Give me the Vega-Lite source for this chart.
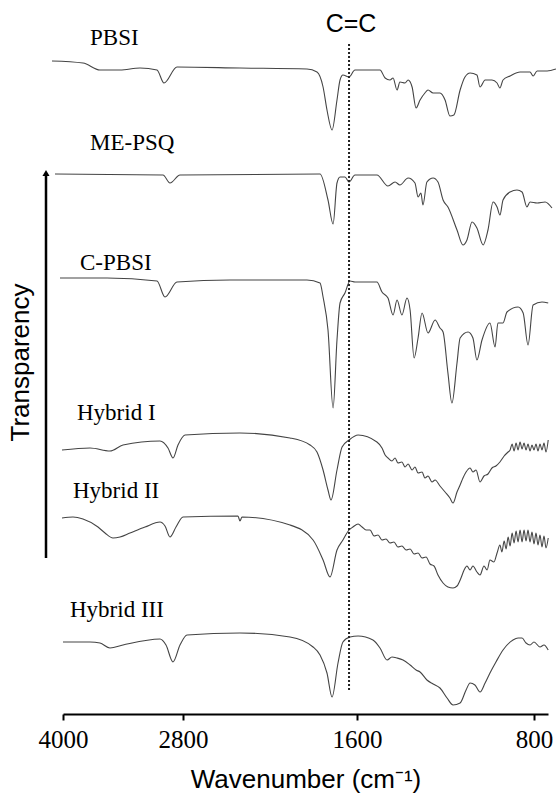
{
  "$schema": "https://vega.github.io/schema/vega-lite/v6.json",
  "width": 485,
  "height": 704,
  "autosize": "none",
  "padding": {"left": 63, "top": 10, "right": 8, "bottom": 83},
  "config": {"view": {"stroke": null}, "background": "white"},
  "datasets": {
    "spectra": [
      {"sample":"PBSI","wavenumber":4110,"transmittance":653},{"sample":"PBSI","wavenumber":3800,"transmittance":651},{"sample":"PBSI","wavenumber":3630,"transmittance":644},{"sample":"PBSI","wavenumber":3430,"transmittance":644},{"sample":"PBSI","wavenumber":3230,"transmittance":646},{"sample":"PBSI","wavenumber":3060,"transmittance":644},{"sample":"PBSI","wavenumber":2990,"transmittance":631},{"sample":"PBSI","wavenumber":2860,"transmittance":647},{"sample":"PBSI","wavenumber":2407,"transmittance":646},{"sample":"PBSI","wavenumber":1945,"transmittance":645},{"sample":"PBSI","wavenumber":1876,"transmittance":642},{"sample":"PBSI","wavenumber":1834,"transmittance":627},{"sample":"PBSI","wavenumber":1807,"transmittance":604},{"sample":"PBSI","wavenumber":1772,"transmittance":584},{"sample":"PBSI","wavenumber":1738,"transmittance":614},{"sample":"PBSI","wavenumber":1717,"transmittance":634},{"sample":"PBSI","wavenumber":1697,"transmittance":639},{"sample":"PBSI","wavenumber":1655,"transmittance":637},{"sample":"PBSI","wavenumber":1614,"transmittance":644},{"sample":"PBSI","wavenumber":1496,"transmittance":644},{"sample":"PBSI","wavenumber":1473,"transmittance":636},{"sample":"PBSI","wavenumber":1451,"transmittance":634},{"sample":"PBSI","wavenumber":1437,"transmittance":636},{"sample":"PBSI","wavenumber":1419,"transmittance":624},{"sample":"PBSI","wavenumber":1406,"transmittance":632},{"sample":"PBSI","wavenumber":1383,"transmittance":631},{"sample":"PBSI","wavenumber":1369,"transmittance":634},{"sample":"PBSI","wavenumber":1351,"transmittance":627},{"sample":"PBSI","wavenumber":1333,"transmittance":606},{"sample":"PBSI","wavenumber":1315,"transmittance":614},{"sample":"PBSI","wavenumber":1293,"transmittance":621},{"sample":"PBSI","wavenumber":1279,"transmittance":624},{"sample":"PBSI","wavenumber":1256,"transmittance":621},{"sample":"PBSI","wavenumber":1225,"transmittance":621},{"sample":"PBSI","wavenumber":1202,"transmittance":614},{"sample":"PBSI","wavenumber":1180,"transmittance":598},{"sample":"PBSI","wavenumber":1162,"transmittance":599},{"sample":"PBSI","wavenumber":1134,"transmittance":624},{"sample":"PBSI","wavenumber":1112,"transmittance":637},{"sample":"PBSI","wavenumber":1089,"transmittance":641},{"sample":"PBSI","wavenumber":1058,"transmittance":639},{"sample":"PBSI","wavenumber":1044,"transmittance":627},{"sample":"PBSI","wavenumber":1021,"transmittance":634},{"sample":"PBSI","wavenumber":990,"transmittance":634},{"sample":"PBSI","wavenumber":967,"transmittance":631},{"sample":"PBSI","wavenumber":954,"transmittance":626},{"sample":"PBSI","wavenumber":940,"transmittance":634},{"sample":"PBSI","wavenumber":908,"transmittance":638},{"sample":"PBSI","wavenumber":863,"transmittance":642},{"sample":"PBSI","wavenumber":818,"transmittance":642},{"sample":"PBSI","wavenumber":804,"transmittance":638},{"sample":"PBSI","wavenumber":786,"transmittance":643},{"sample":"PBSI","wavenumber":741,"transmittance":643},{"sample":"PBSI","wavenumber":701,"transmittance":645},

      {"sample":"ME-PSQ","wavenumber":4080,"transmittance":540},{"sample":"ME-PSQ","wavenumber":3000,"transmittance":539},{"sample":"ME-PSQ","wavenumber":2930,"transmittance":531},{"sample":"ME-PSQ","wavenumber":2830,"transmittance":539},{"sample":"ME-PSQ","wavenumber":1855,"transmittance":540},{"sample":"ME-PSQ","wavenumber":1800,"transmittance":514},{"sample":"ME-PSQ","wavenumber":1765,"transmittance":490},{"sample":"ME-PSQ","wavenumber":1738,"transmittance":531},{"sample":"ME-PSQ","wavenumber":1717,"transmittance":537},{"sample":"ME-PSQ","wavenumber":1683,"transmittance":537},{"sample":"ME-PSQ","wavenumber":1655,"transmittance":532},{"sample":"ME-PSQ","wavenumber":1614,"transmittance":539},{"sample":"ME-PSQ","wavenumber":1510,"transmittance":539},{"sample":"ME-PSQ","wavenumber":1460,"transmittance":528},{"sample":"ME-PSQ","wavenumber":1428,"transmittance":532},{"sample":"ME-PSQ","wavenumber":1406,"transmittance":529},{"sample":"ME-PSQ","wavenumber":1369,"transmittance":536},{"sample":"ME-PSQ","wavenumber":1338,"transmittance":531},{"sample":"ME-PSQ","wavenumber":1324,"transmittance":517},{"sample":"ME-PSQ","wavenumber":1311,"transmittance":521},{"sample":"ME-PSQ","wavenumber":1302,"transmittance":509},{"sample":"ME-PSQ","wavenumber":1284,"transmittance":532},{"sample":"ME-PSQ","wavenumber":1256,"transmittance":536},{"sample":"ME-PSQ","wavenumber":1234,"transmittance":532},{"sample":"ME-PSQ","wavenumber":1211,"transmittance":514},{"sample":"ME-PSQ","wavenumber":1189,"transmittance":507},{"sample":"ME-PSQ","wavenumber":1148,"transmittance":484},{"sample":"ME-PSQ","wavenumber":1121,"transmittance":469},{"sample":"ME-PSQ","wavenumber":1103,"transmittance":474},{"sample":"ME-PSQ","wavenumber":1080,"transmittance":492},{"sample":"ME-PSQ","wavenumber":1058,"transmittance":486},{"sample":"ME-PSQ","wavenumber":1030,"transmittance":469},{"sample":"ME-PSQ","wavenumber":1008,"transmittance":484},{"sample":"ME-PSQ","wavenumber":985,"transmittance":512},{"sample":"ME-PSQ","wavenumber":967,"transmittance":507},{"sample":"ME-PSQ","wavenumber":954,"transmittance":499},{"sample":"ME-PSQ","wavenumber":940,"transmittance":514},{"sample":"ME-PSQ","wavenumber":908,"transmittance":522},{"sample":"ME-PSQ","wavenumber":877,"transmittance":524},{"sample":"ME-PSQ","wavenumber":854,"transmittance":522},{"sample":"ME-PSQ","wavenumber":832,"transmittance":507},{"sample":"ME-PSQ","wavenumber":818,"transmittance":512},{"sample":"ME-PSQ","wavenumber":786,"transmittance":511},{"sample":"ME-PSQ","wavenumber":750,"transmittance":512},{"sample":"ME-PSQ","wavenumber":719,"transmittance":506},

      {"sample":"C-PBSI","wavenumber":4030,"transmittance":436},{"sample":"C-PBSI","wavenumber":3560,"transmittance":436},{"sample":"C-PBSI","wavenumber":3060,"transmittance":433},{"sample":"C-PBSI","wavenumber":2980,"transmittance":417},{"sample":"C-PBSI","wavenumber":2860,"transmittance":432},{"sample":"C-PBSI","wavenumber":2476,"transmittance":434},{"sample":"C-PBSI","wavenumber":1945,"transmittance":434},{"sample":"C-PBSI","wavenumber":1855,"transmittance":431},{"sample":"C-PBSI","wavenumber":1834,"transmittance":417},{"sample":"C-PBSI","wavenumber":1800,"transmittance":384},{"sample":"C-PBSI","wavenumber":1765,"transmittance":306},{"sample":"C-PBSI","wavenumber":1738,"transmittance":374},{"sample":"C-PBSI","wavenumber":1717,"transmittance":411},{"sample":"C-PBSI","wavenumber":1683,"transmittance":421},{"sample":"C-PBSI","wavenumber":1648,"transmittance":433},{"sample":"C-PBSI","wavenumber":1614,"transmittance":432},{"sample":"C-PBSI","wavenumber":1510,"transmittance":432},{"sample":"C-PBSI","wavenumber":1487,"transmittance":422},{"sample":"C-PBSI","wavenumber":1460,"transmittance":416},{"sample":"C-PBSI","wavenumber":1437,"transmittance":399},{"sample":"C-PBSI","wavenumber":1419,"transmittance":414},{"sample":"C-PBSI","wavenumber":1397,"transmittance":399},{"sample":"C-PBSI","wavenumber":1374,"transmittance":416},{"sample":"C-PBSI","wavenumber":1360,"transmittance":404},{"sample":"C-PBSI","wavenumber":1342,"transmittance":356},{"sample":"C-PBSI","wavenumber":1324,"transmittance":376},{"sample":"C-PBSI","wavenumber":1306,"transmittance":401},{"sample":"C-PBSI","wavenumber":1279,"transmittance":381},{"sample":"C-PBSI","wavenumber":1247,"transmittance":394},{"sample":"C-PBSI","wavenumber":1225,"transmittance":386},{"sample":"C-PBSI","wavenumber":1211,"transmittance":382},{"sample":"C-PBSI","wavenumber":1189,"transmittance":341},{"sample":"C-PBSI","wavenumber":1171,"transmittance":311},{"sample":"C-PBSI","wavenumber":1148,"transmittance":351},{"sample":"C-PBSI","wavenumber":1134,"transmittance":376},{"sample":"C-PBSI","wavenumber":1098,"transmittance":382},{"sample":"C-PBSI","wavenumber":1076,"transmittance":376},{"sample":"C-PBSI","wavenumber":1058,"transmittance":354},{"sample":"C-PBSI","wavenumber":1035,"transmittance":374},{"sample":"C-PBSI","wavenumber":999,"transmittance":391},{"sample":"C-PBSI","wavenumber":976,"transmittance":367},{"sample":"C-PBSI","wavenumber":963,"transmittance":391},{"sample":"C-PBSI","wavenumber":940,"transmittance":391},{"sample":"C-PBSI","wavenumber":922,"transmittance":402},{"sample":"C-PBSI","wavenumber":872,"transmittance":407},{"sample":"C-PBSI","wavenumber":849,"transmittance":401},{"sample":"C-PBSI","wavenumber":827,"transmittance":369},{"sample":"C-PBSI","wavenumber":804,"transmittance":409},{"sample":"C-PBSI","wavenumber":764,"transmittance":412},{"sample":"C-PBSI","wavenumber":736,"transmittance":411},

      {"sample":"Hybrid I","wavenumber":4010,"transmittance":264},{"sample":"Hybrid I","wavenumber":3730,"transmittance":266},{"sample":"Hybrid I","wavenumber":3530,"transmittance":263},{"sample":"Hybrid I","wavenumber":3400,"transmittance":269},{"sample":"Hybrid I","wavenumber":3030,"transmittance":273},{"sample":"Hybrid I","wavenumber":2950,"transmittance":266},{"sample":"Hybrid I","wavenumber":2900,"transmittance":256},{"sample":"Hybrid I","wavenumber":2850,"transmittance":269},{"sample":"Hybrid I","wavenumber":2786,"transmittance":279},{"sample":"Hybrid I","wavenumber":2407,"transmittance":281},{"sample":"Hybrid I","wavenumber":2062,"transmittance":276},{"sample":"Hybrid I","wavenumber":1924,"transmittance":269},{"sample":"Hybrid I","wavenumber":1876,"transmittance":262},{"sample":"Hybrid I","wavenumber":1834,"transmittance":244},{"sample":"Hybrid I","wavenumber":1800,"transmittance":224},{"sample":"Hybrid I","wavenumber":1779,"transmittance":214},{"sample":"Hybrid I","wavenumber":1738,"transmittance":244},{"sample":"Hybrid I","wavenumber":1703,"transmittance":267},{"sample":"Hybrid I","wavenumber":1655,"transmittance":274},{"sample":"Hybrid I","wavenumber":1595,"transmittance":279},{"sample":"Hybrid I","wavenumber":1510,"transmittance":272},{"sample":"Hybrid I","wavenumber":1487,"transmittance":266},{"sample":"Hybrid I","wavenumber":1473,"transmittance":259},{"sample":"Hybrid I","wavenumber":1460,"transmittance":256},{"sample":"Hybrid I","wavenumber":1442,"transmittance":253},{"sample":"Hybrid I","wavenumber":1428,"transmittance":256},{"sample":"Hybrid I","wavenumber":1415,"transmittance":251},{"sample":"Hybrid I","wavenumber":1397,"transmittance":252},{"sample":"Hybrid I","wavenumber":1383,"transmittance":247},{"sample":"Hybrid I","wavenumber":1369,"transmittance":250},{"sample":"Hybrid I","wavenumber":1351,"transmittance":244},{"sample":"Hybrid I","wavenumber":1338,"transmittance":247},{"sample":"Hybrid I","wavenumber":1324,"transmittance":241},{"sample":"Hybrid I","wavenumber":1306,"transmittance":242},{"sample":"Hybrid I","wavenumber":1293,"transmittance":236},{"sample":"Hybrid I","wavenumber":1279,"transmittance":238},{"sample":"Hybrid I","wavenumber":1261,"transmittance":232},{"sample":"Hybrid I","wavenumber":1247,"transmittance":234},{"sample":"Hybrid I","wavenumber":1225,"transmittance":228},{"sample":"Hybrid I","wavenumber":1202,"transmittance":222},{"sample":"Hybrid I","wavenumber":1180,"transmittance":216},{"sample":"Hybrid I","wavenumber":1166,"transmittance":211},{"sample":"Hybrid I","wavenumber":1148,"transmittance":222},{"sample":"Hybrid I","wavenumber":1134,"transmittance":229},{"sample":"Hybrid I","wavenumber":1121,"transmittance":236},{"sample":"Hybrid I","wavenumber":1107,"transmittance":242},{"sample":"Hybrid I","wavenumber":1089,"transmittance":246},{"sample":"Hybrid I","wavenumber":1076,"transmittance":242},{"sample":"Hybrid I","wavenumber":1062,"transmittance":244},{"sample":"Hybrid I","wavenumber":1044,"transmittance":232},{"sample":"Hybrid I","wavenumber":1026,"transmittance":238},{"sample":"Hybrid I","wavenumber":1008,"transmittance":240},{"sample":"Hybrid I","wavenumber":990,"transmittance":246},{"sample":"Hybrid I","wavenumber":972,"transmittance":248},{"sample":"Hybrid I","wavenumber":954,"transmittance":252},{"sample":"Hybrid I","wavenumber":935,"transmittance":258},{"sample":"Hybrid I","wavenumber":917,"transmittance":262},{"sample":"Hybrid I","wavenumber":908,"transmittance":264},{"sample":"Hybrid I","wavenumber":899,"transmittance":270},{"sample":"Hybrid I","wavenumber":890,"transmittance":263},{"sample":"Hybrid I","wavenumber":881,"transmittance":271},{"sample":"Hybrid I","wavenumber":872,"transmittance":264},{"sample":"Hybrid I","wavenumber":863,"transmittance":272},{"sample":"Hybrid I","wavenumber":854,"transmittance":265},{"sample":"Hybrid I","wavenumber":845,"transmittance":271},{"sample":"Hybrid I","wavenumber":836,"transmittance":264},{"sample":"Hybrid I","wavenumber":827,"transmittance":270},{"sample":"Hybrid I","wavenumber":818,"transmittance":263},{"sample":"Hybrid I","wavenumber":809,"transmittance":269},{"sample":"Hybrid I","wavenumber":800,"transmittance":264},{"sample":"Hybrid I","wavenumber":791,"transmittance":270},{"sample":"Hybrid I","wavenumber":782,"transmittance":263},{"sample":"Hybrid I","wavenumber":773,"transmittance":270},{"sample":"Hybrid I","wavenumber":764,"transmittance":264},{"sample":"Hybrid I","wavenumber":755,"transmittance":271},{"sample":"Hybrid I","wavenumber":746,"transmittance":262},{"sample":"Hybrid I","wavenumber":736,"transmittance":274},

      {"sample":"Hybrid II","wavenumber":4010,"transmittance":196},{"sample":"Hybrid II","wavenumber":3900,"transmittance":197},{"sample":"Hybrid II","wavenumber":3800,"transmittance":195},{"sample":"Hybrid II","wavenumber":3650,"transmittance":187},{"sample":"Hybrid II","wavenumber":3580,"transmittance":181},{"sample":"Hybrid II","wavenumber":3500,"transmittance":176},{"sample":"Hybrid II","wavenumber":3430,"transmittance":177},{"sample":"Hybrid II","wavenumber":3330,"transmittance":181},{"sample":"Hybrid II","wavenumber":3180,"transmittance":187},{"sample":"Hybrid II","wavenumber":3030,"transmittance":192},{"sample":"Hybrid II","wavenumber":2980,"transmittance":188},{"sample":"Hybrid II","wavenumber":2930,"transmittance":177},{"sample":"Hybrid II","wavenumber":2870,"transmittance":187},{"sample":"Hybrid II","wavenumber":2800,"transmittance":197},{"sample":"Hybrid II","wavenumber":2421,"transmittance":198},{"sample":"Hybrid II","wavenumber":2407,"transmittance":193},{"sample":"Hybrid II","wavenumber":2393,"transmittance":197},{"sample":"Hybrid II","wavenumber":2062,"transmittance":189},{"sample":"Hybrid II","wavenumber":1903,"transmittance":174},{"sample":"Hybrid II","wavenumber":1834,"transmittance":154},{"sample":"Hybrid II","wavenumber":1786,"transmittance":137},{"sample":"Hybrid II","wavenumber":1738,"transmittance":164},{"sample":"Hybrid II","wavenumber":1697,"transmittance":174},{"sample":"Hybrid II","wavenumber":1655,"transmittance":184},{"sample":"Hybrid II","wavenumber":1628,"transmittance":187},{"sample":"Hybrid II","wavenumber":1595,"transmittance":190},{"sample":"Hybrid II","wavenumber":1577,"transmittance":187},{"sample":"Hybrid II","wavenumber":1559,"transmittance":184},{"sample":"Hybrid II","wavenumber":1541,"transmittance":184},{"sample":"Hybrid II","wavenumber":1523,"transmittance":178},{"sample":"Hybrid II","wavenumber":1505,"transmittance":179},{"sample":"Hybrid II","wavenumber":1487,"transmittance":174},{"sample":"Hybrid II","wavenumber":1469,"transmittance":175},{"sample":"Hybrid II","wavenumber":1451,"transmittance":171},{"sample":"Hybrid II","wavenumber":1433,"transmittance":172},{"sample":"Hybrid II","wavenumber":1415,"transmittance":167},{"sample":"Hybrid II","wavenumber":1397,"transmittance":168},{"sample":"Hybrid II","wavenumber":1378,"transmittance":164},{"sample":"Hybrid II","wavenumber":1360,"transmittance":165},{"sample":"Hybrid II","wavenumber":1342,"transmittance":160},{"sample":"Hybrid II","wavenumber":1324,"transmittance":161},{"sample":"Hybrid II","wavenumber":1306,"transmittance":156},{"sample":"Hybrid II","wavenumber":1288,"transmittance":157},{"sample":"Hybrid II","wavenumber":1270,"transmittance":150},{"sample":"Hybrid II","wavenumber":1252,"transmittance":148},{"sample":"Hybrid II","wavenumber":1234,"transmittance":139},{"sample":"Hybrid II","wavenumber":1211,"transmittance":131},{"sample":"Hybrid II","wavenumber":1189,"transmittance":127},{"sample":"Hybrid II","wavenumber":1166,"transmittance":126},{"sample":"Hybrid II","wavenumber":1148,"transmittance":128},{"sample":"Hybrid II","wavenumber":1130,"transmittance":136},{"sample":"Hybrid II","wavenumber":1116,"transmittance":144},{"sample":"Hybrid II","wavenumber":1103,"transmittance":148},{"sample":"Hybrid II","wavenumber":1089,"transmittance":144},{"sample":"Hybrid II","wavenumber":1076,"transmittance":148},{"sample":"Hybrid II","wavenumber":1058,"transmittance":142},{"sample":"Hybrid II","wavenumber":1044,"transmittance":139},{"sample":"Hybrid II","wavenumber":1026,"transmittance":148},{"sample":"Hybrid II","wavenumber":1012,"transmittance":144},{"sample":"Hybrid II","wavenumber":999,"transmittance":154},{"sample":"Hybrid II","wavenumber":981,"transmittance":152},{"sample":"Hybrid II","wavenumber":967,"transmittance":161},{"sample":"Hybrid II","wavenumber":954,"transmittance":169},{"sample":"Hybrid II","wavenumber":945,"transmittance":162},{"sample":"Hybrid II","wavenumber":935,"transmittance":173},{"sample":"Hybrid II","wavenumber":926,"transmittance":165},{"sample":"Hybrid II","wavenumber":917,"transmittance":177},{"sample":"Hybrid II","wavenumber":908,"transmittance":168},{"sample":"Hybrid II","wavenumber":899,"transmittance":181},{"sample":"Hybrid II","wavenumber":890,"transmittance":171},{"sample":"Hybrid II","wavenumber":881,"transmittance":183},{"sample":"Hybrid II","wavenumber":872,"transmittance":172},{"sample":"Hybrid II","wavenumber":863,"transmittance":184},{"sample":"Hybrid II","wavenumber":854,"transmittance":172},{"sample":"Hybrid II","wavenumber":845,"transmittance":184},{"sample":"Hybrid II","wavenumber":836,"transmittance":173},{"sample":"Hybrid II","wavenumber":827,"transmittance":184},{"sample":"Hybrid II","wavenumber":818,"transmittance":172},{"sample":"Hybrid II","wavenumber":809,"transmittance":182},{"sample":"Hybrid II","wavenumber":800,"transmittance":170},{"sample":"Hybrid II","wavenumber":791,"transmittance":181},{"sample":"Hybrid II","wavenumber":782,"transmittance":169},{"sample":"Hybrid II","wavenumber":773,"transmittance":179},{"sample":"Hybrid II","wavenumber":764,"transmittance":167},{"sample":"Hybrid II","wavenumber":755,"transmittance":178},{"sample":"Hybrid II","wavenumber":746,"transmittance":166},{"sample":"Hybrid II","wavenumber":736,"transmittance":176},

      {"sample":"Hybrid III","wavenumber":4000,"transmittance":72},{"sample":"Hybrid III","wavenumber":3730,"transmittance":72},{"sample":"Hybrid III","wavenumber":3630,"transmittance":71},{"sample":"Hybrid III","wavenumber":3530,"transmittance":66},{"sample":"Hybrid III","wavenumber":3400,"transmittance":69},{"sample":"Hybrid III","wavenumber":3030,"transmittance":75},{"sample":"Hybrid III","wavenumber":2970,"transmittance":69},{"sample":"Hybrid III","wavenumber":2900,"transmittance":52},{"sample":"Hybrid III","wavenumber":2830,"transmittance":69},{"sample":"Hybrid III","wavenumber":2772,"transmittance":79},{"sample":"Hybrid III","wavenumber":2407,"transmittance":81},{"sample":"Hybrid III","wavenumber":2062,"transmittance":77},{"sample":"Hybrid III","wavenumber":1903,"transmittance":67},{"sample":"Hybrid III","wavenumber":1855,"transmittance":59},{"sample":"Hybrid III","wavenumber":1807,"transmittance":41},{"sample":"Hybrid III","wavenumber":1772,"transmittance":17},{"sample":"Hybrid III","wavenumber":1731,"transmittance":51},{"sample":"Hybrid III","wavenumber":1697,"transmittance":72},{"sample":"Hybrid III","wavenumber":1648,"transmittance":77},{"sample":"Hybrid III","wavenumber":1595,"transmittance":78},{"sample":"Hybrid III","wavenumber":1528,"transmittance":74},{"sample":"Hybrid III","wavenumber":1496,"transmittance":66},{"sample":"Hybrid III","wavenumber":1464,"transmittance":54},{"sample":"Hybrid III","wavenumber":1442,"transmittance":57},{"sample":"Hybrid III","wavenumber":1419,"transmittance":56},{"sample":"Hybrid III","wavenumber":1392,"transmittance":54},{"sample":"Hybrid III","wavenumber":1360,"transmittance":49},{"sample":"Hybrid III","wavenumber":1333,"transmittance":44},{"sample":"Hybrid III","wavenumber":1315,"transmittance":42},{"sample":"Hybrid III","wavenumber":1284,"transmittance":34},{"sample":"Hybrid III","wavenumber":1256,"transmittance":30},{"sample":"Hybrid III","wavenumber":1225,"transmittance":26},{"sample":"Hybrid III","wavenumber":1193,"transmittance":16},{"sample":"Hybrid III","wavenumber":1166,"transmittance":9},{"sample":"Hybrid III","wavenumber":1134,"transmittance":11},{"sample":"Hybrid III","wavenumber":1107,"transmittance":24},{"sample":"Hybrid III","wavenumber":1089,"transmittance":31},{"sample":"Hybrid III","wavenumber":1067,"transmittance":29},{"sample":"Hybrid III","wavenumber":1044,"transmittance":22},{"sample":"Hybrid III","wavenumber":1021,"transmittance":31},{"sample":"Hybrid III","wavenumber":999,"transmittance":41},{"sample":"Hybrid III","wavenumber":972,"transmittance":52},{"sample":"Hybrid III","wavenumber":940,"transmittance":64},{"sample":"Hybrid III","wavenumber":895,"transmittance":74},{"sample":"Hybrid III","wavenumber":872,"transmittance":76},{"sample":"Hybrid III","wavenumber":854,"transmittance":76},{"sample":"Hybrid III","wavenumber":836,"transmittance":71},{"sample":"Hybrid III","wavenumber":818,"transmittance":69},{"sample":"Hybrid III","wavenumber":800,"transmittance":72},{"sample":"Hybrid III","wavenumber":773,"transmittance":67},{"sample":"Hybrid III","wavenumber":755,"transmittance":69},{"sample":"Hybrid III","wavenumber":736,"transmittance":64}
    ],
    "labels": [
      {"sample":"PBSI","wavenumber":3730,"transmittance":669},
      {"sample":"ME-PSQ","wavenumber":3730,"transmittance":564},
      {"sample":"C-PBSI","wavenumber":3830,"transmittance":444},
      {"sample":"Hybrid I","wavenumber":3860,"transmittance":294},
      {"sample":"Hybrid II","wavenumber":3900,"transmittance":216},
      {"sample":"Hybrid III","wavenumber":3930,"transmittance":97}
    ]
  },
  "layer": [
    {
      "data": {"name": "spectra"},
      "mark": {"type": "line", "stroke": "#444444", "strokeWidth": 1.1, "clip": false, "interpolate": "monotone"},
      "encoding": {
        "x": {
          "field": "wavenumber", "type": "quantitative",
          "scale": {"domain": [4000, 2800, 1600, 800, 737], "range": [0, 120, 294, 471, 485], "nice": false, "zero": false},
          "axis": {
            "values": [4000, 2800, 1600, 800],
            "format": "d",
            "title": "Wavenumber (cm⁻¹)",
            "titleFont": "Liberation Sans", "titleFontSize": 26, "titleFontWeight": "normal", "titleColor": "black", "titlePadding": 14,
            "labelFont": "Liberation Serif", "labelFontSize": 25, "labelColor": "black", "labelPadding": 7,
            "labelFlush": false, "labelOverlap": false, "labelBound": false,
            "domainColor": "black", "domainWidth": 2, "tickColor": "black", "tickWidth": 2, "tickSize": 6,
            "grid": false
          }
        },
        "y": {
          "field": "transmittance", "type": "quantitative",
          "scale": {"domain": [0, 704], "nice": false, "zero": false},
          "axis": {
            "title": "Transparency", "titleFont": "Liberation Sans", "titleFontSize": 26, "titleFontWeight": "normal", "titleColor": "black",
            "titlePadding": 30, "minExtent": 0, "maxExtent": 0,
            "domain": false, "ticks": false, "labels": false, "grid": false
          }
        },
        "detail": {"field": "sample"}
      }
    },
    {
      "data": {"name": "labels"},
      "mark": {"type": "text", "font": "Liberation Serif", "fontSize": 23, "align": "left", "baseline": "alphabetic", "color": "black"},
      "encoding": {
        "x": {"field": "wavenumber", "type": "quantitative"},
        "y": {"field": "transmittance", "type": "quantitative"},
        "text": {"field": "sample"}
      }
    },
    {
      "data": {"values": [{}]},
      "mark": {"type": "rule", "stroke": "#222", "strokeWidth": 2, "strokeDash": [2, 2]},
      "encoding": {"x": {"datum": 1655}, "y": {"datum": 24}, "y2": {"datum": 671}}
    },
    {
      "data": {"values": [{}]},
      "mark": {"type": "text", "font": "Liberation Sans", "fontSize": 25, "align": "center", "baseline": "alphabetic", "color": "black", "text": "C=C"},
      "encoding": {"x": {"datum": 1641}, "y": {"datum": 682}}
    },
    {
      "data": {"values": [{}]},
      "mark": {"type": "rule", "stroke": "black", "strokeWidth": 2.5},
      "encoding": {"x": {"datum": 4170}, "y": {"datum": 156}, "y2": {"datum": 538}}
    },
    {
      "data": {"values": [{}]},
      "mark": {"type": "point", "shape": "triangle-up", "filled": true, "color": "black", "size": 50, "opacity": 1},
      "encoding": {"x": {"datum": 4170}, "y": {"datum": 541}}
    }
  ]
}
